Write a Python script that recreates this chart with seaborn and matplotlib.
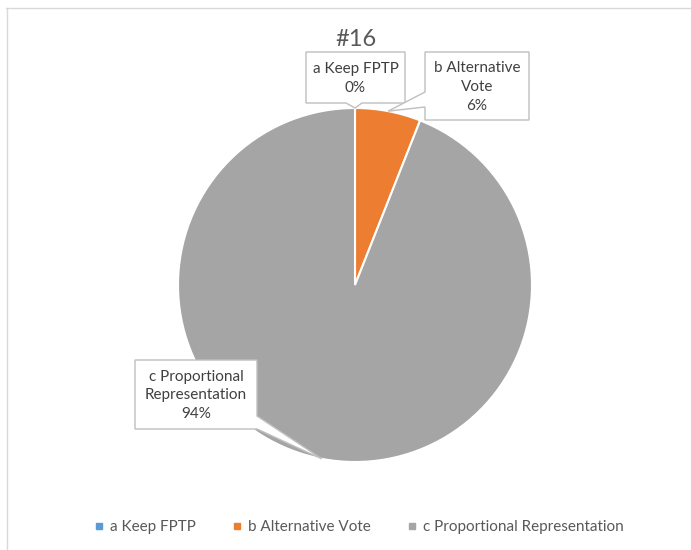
import matplotlib
matplotlib.use("Agg")
import matplotlib.pyplot as plt
from matplotlib.patches import Polygon
from matplotlib.lines import Line2D
import numpy as np
import seaborn as sns

# === Data ===
categories = ["a Keep FPTP", "b Alternative Vote", "c Proportional Representation"]
shares = [0, 6, 94]
callout_text = ["a Keep FPTP\n0%", "b Alternative\nVote\n6%", "c Proportional\nRepresentation\n94%"]
title = "#16"

# === Style ===
sns.set_theme(style="white")
plt.rcParams["font.family"] = ["Lato", "DejaVu Sans"]
colors = sns.color_palette(["#5B9BD5", "#ED7D31", "#A5A5A5"])
text_col = "#595959"

fig = plt.figure(figsize=(6.91, 5.5), dpi=100)
ax = fig.add_axes([0, 0, 1, 1])

# pie in pixel coordinates (y inverted), clockwise from 12 o'clock
cx, cy, r = 355, 285, 177
wedges, _ = ax.pie(shares, colors=colors, startangle=-90, counterclock=True,
                   center=(cx, cy), radius=r,
                   wedgeprops=dict(edgecolor="white", linewidth=1.5))
ax.set_xlim(0, 691)
ax.set_ylim(550, 0)
ax.set_aspect("equal")
ax.axis("off")

# chart area border (top + left only visible)
ax.plot([6, 691], [8, 8], color="#D9D9D9", lw=1, clip_on=False)
ax.plot([7, 7], [8, 550], color="#D9D9D9", lw=1, clip_on=False)

ax.text(cx + 1, 40, title, ha="center", va="center", fontsize=17, color=text_col)

# leader tips from wedge mid angles
tips = []
for w in wedges:
    th = np.deg2rad((w.theta1 + w.theta2) / 2)
    tips.append((w.center[0] + r * np.cos(th), w.center[1] + r * np.sin(th)))

# callout boxes: (left, top, right, bottom) and pointer shapes
boxes = [(306, 52, 405, 103), (425, 52, 529, 120), (135, 360, 257, 429)]
shapes = [
    lambda b, t: [(b[0], b[1]), (b[2], b[1]), (b[2], b[3]), (362, b[3]), t, (346, b[3]), (b[0], b[3])],
    lambda b, t: [(b[0], b[1]), (b[2], b[1]), (b[2], b[3]), (b[0], b[3]), (b[0], 107), t, (b[0], 92)],
    lambda b, t: [(b[0], b[1]), (b[2], b[1]), (b[2], 416), t, (b[2], b[3]), (b[0], b[3])],
]
for box, shp, tip, txt in zip(boxes, shapes, tips, callout_text):
    ax.add_patch(Polygon(shp(box, tip), closed=True, fc="white", ec="#BFBFBF", lw=1, zorder=3))
    ax.text((box[0] + box[2]) / 2, (box[1] + box[3]) / 2 + 1, txt, ha="center", va="center",
            fontsize=11, color="#404040", linespacing=1.42, zorder=4)

# legend
handles = [Line2D([], [], marker="s", ls="", color=c, markersize=5) for c in colors]
fig.legend(handles, categories, loc="center", bbox_to_anchor=(359 / 691, 1 - 527 / 550),
           ncol=3, frameon=False, fontsize=11, handlelength=0.6, handletextpad=0.4,
           columnspacing=2.4, labelcolor=text_col)

fig.savefig("out.png", dpi=100)
